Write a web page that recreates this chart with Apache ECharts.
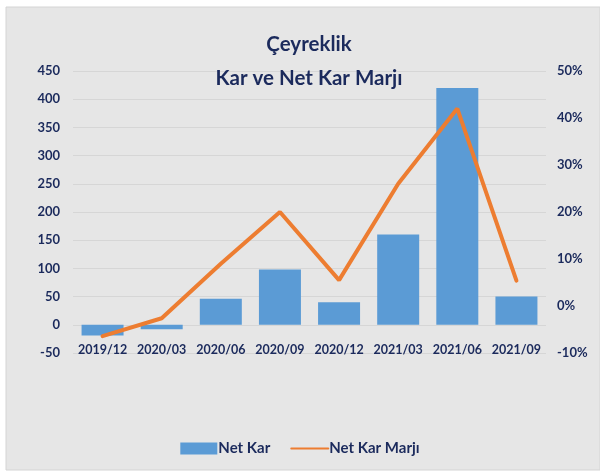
<!DOCTYPE html>
<html>
<head>
<meta charset="utf-8">
<script src="https://cdn.jsdelivr.net/npm/echarts@6/dist/echarts.min.js"></script>
<style>
    html, body { margin: 0; padding: 0; background: #fff; }
    #chart { width: 600px; height: 474px; }
</style>
</head>
<body>
<div id="chart"></div>
<script>
// quarters
const categories = ['2019/12', '2020/03', '2020/06', '2020/09', '2020/12', '2021/03', '2021/06', '2021/09']
// net profit (left axis)
const netKar = [-19, -8, 46, 98, 40, 160, 420, 50]
// net profit margin, % (right axis)
const netKarMarji = [-6.4, -2.6, 9, 20, 5.5, 26, 42, 5.4]

const textColor = '#1b2a5c'
const font = 'Lato, "Open Sans", sans-serif'

const chart = echarts.init(document.getElementById('chart'))

chart.setOption({
    backgroundColor: '#fff',
    animation: false,
    graphic: [{
        type: 'rect',
        z: -10,
        shape: { x: 6, y: 7, width: 594, height: 463 },
        style: { fill: '#e6e6e6', stroke: '#d4d4d4', lineWidth: 1 }
    }],
    title: {
        text: 'Çeyreklik\nKar ve Net Kar Marjı',
        left: 304,
        top: 22,
        textAlign: 'center',
        textStyle: {
            color: textColor,
            fontFamily: font,
            fontWeight: 'bold',
            fontSize: 20.5,
            lineHeight: 34
        }
    },
    legend: {
        bottom: 13,
        left: 'center',
        itemGap: 20,
        itemWidth: 37,
        itemHeight: 12,
        textStyle: {
            color: textColor,
            fontFamily: font,
            fontWeight: 'bold',
            fontSize: 15,
            padding: [0, 0, 0, -4]
        },
        data: [
            { name: 'Net Kar', icon: 'rect' },
            { name: 'Net Kar Marjı', itemStyle: { opacity: 0 } }
        ]
    },
    grid: {
        left: 73,
        right: 54,
        top: 71,
        bottom: 121
    },
    xAxis: {
        type: 'category',
        data: categories,
        axisLine: { show: false },
        axisTick: { show: false },
        axisLabel: {
            interval: 0,
            color: textColor,
            fontFamily: font,
            fontWeight: 'bold',
            fontSize: 12.5,
            margin: -10
        }
    },
    yAxis: [{
        type: 'value',
        min: -50,
        max: 450,
        interval: 50,
        axisLine: { show: false },
        axisTick: { show: false },
        splitLine: { lineStyle: { color: '#d6d6d6', width: 1 } },
        axisLabel: {
            color: textColor,
            fontFamily: font,
            fontWeight: 'bold',
            fontSize: 13,
            margin: 13
        }
    }, {
        type: 'value',
        min: -10,
        max: 50,
        interval: 10,
        axisLine: { show: false },
        axisTick: { show: false },
        splitLine: { show: false },
        axisLabel: {
            formatter: '{value}%',
            color: textColor,
            fontFamily: font,
            fontWeight: 'bold',
            fontSize: 13,
            margin: 11
        }
    }],
    series: [{
        name: 'Net Kar',
        type: 'bar',
        data: netKar,
        barWidth: 42,
        itemStyle: { color: '#5b9bd5' }
    }, {
        name: 'Net Kar Marjı',
        type: 'line',
        yAxisIndex: 1,
        data: netKarMarji,
        symbol: 'none',
        lineStyle: { color: '#ed7d31', width: 4, cap: 'round' },
        itemStyle: { color: '#ed7d31' }
    }]
})
</script>
</body>
</html>
